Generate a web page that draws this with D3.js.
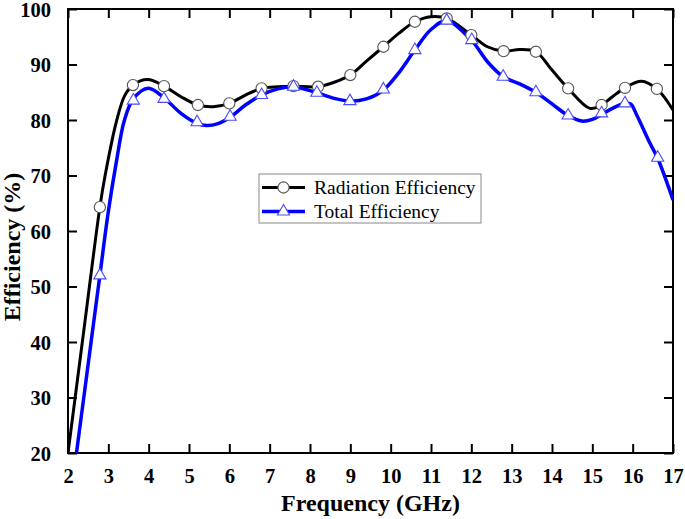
<!DOCTYPE html>
<html>
<head>
<meta charset="utf-8">
<script src="https://cdn.jsdelivr.net/npm/d3@7"></script>
<style>
  html, body { margin: 0; padding: 0; background: #fff; }
  svg { display: block; }
</style>
</head>
<body>
<svg id="chart" width="685" height="519"></svg>
<script>
// ---- Data ----
const xTicks = [2,3,4,5,6,7,8,9,10,11,12,13,14,15,16,17];
const yTicks = [20,30,40,50,60,70,80,90,100];

// Radiation efficiency curve (GHz, %)
const radFreq = [2.0,2.4,2.79,2.92,3.21,3.4,3.61,3.98,4.38,4.8,5.22,5.6,6.0,6.4,6.8,7.2,7.59,8.2,8.6,9.0,9.4,9.82,10.2,10.6,11.0,11.39,12.0,12.4,12.8,13.2,13.6,14.0,14.4,14.94,15.23,15.5,15.81,16.22,16.6,17.0];
const radVals = [20,42.5,64.3,70,80,84.3,86.3,87.3,86.1,84.2,82.7,82.4,83.0,84.5,85.7,86.0,86.1,86.0,86.8,88.1,90.6,93.2,95.6,97.7,98.6,98.3,95.3,93.2,92.4,92.7,92.3,89.0,85.7,82.1,82.7,84.2,85.8,87.0,85.6,81.8];
const radMarkFreq = [2.79,3.61,4.38,5.22,6.0,6.8,7.59,8.2,9.0,9.82,10.6,11.39,12.0,12.8,13.6,14.4,15.23,15.81,16.6];
const radMarkVals = [64.3,86.3,86.1,82.7,83.0,85.7,86.1,86.0,88.1,93.2,97.7,98.3,95.3,92.4,92.3,85.7,82.7,85.8,85.6];

// Total efficiency curve (GHz, %)
const totFreq = [2.21,2.5,2.79,3.0,3.2,3.4,3.62,3.99,4.38,4.8,5.2,5.44,5.7,6.02,6.4,6.8,7.2,7.59,8.17,8.6,8.99,9.4,9.82,10.2,10.6,11.0,11.39,12.01,12.4,12.79,13.2,13.6,14.0,14.4,14.74,15.0,15.23,15.5,15.81,15.95,16.1,16.43,16.62,17.0];
const totVals = [20,36,52,63.5,72.5,80,83.8,85.7,84.0,81.2,79.4,79.0,79.3,80.5,82.7,84.5,85.6,86.0,84.9,83.9,83.4,83.8,85.4,88.5,92.6,96.3,97.9,94.3,90.5,87.8,86.5,85.0,82.9,80.8,79.8,80.1,81.0,82.1,83.0,82.9,80.9,75.8,73.1,65.6];
const totMarkFreq = [2.79,3.62,4.38,5.2,6.02,6.8,7.59,8.17,8.99,9.82,10.6,11.39,12.01,12.79,13.6,14.4,15.23,15.81,16.62];
const totMarkVals = [52,83.5,83.8,79.6,80.6,84.5,86.0,84.9,83.4,85.5,92.6,97.9,94.4,87.8,85.0,80.8,81.2,83.0,73.2];

const seriesNames = ["Radiation Efficiency", "Total Efficiency"];
const xTitle = "Frequency (GHz)";
const yTitle = "Efficiency (%)";

// ---- Layout ----
const L = 68, R = 673, T = 9, B = 453;
const svg = d3.select("#chart");
const x = d3.scaleLinear().domain([2,17]).range([L,R]);
const y = d3.scaleLinear().domain([20,100]).range([B,T]);
const font = "'Liberation Serif','Times New Roman',serif";

svg.append("defs").append("clipPath").attr("id","clip")
  .append("rect").attr("x",L).attr("y",T).attr("width",R-L).attr("height",B-T);

// Axes with inward ticks
const tickLen = 9;
const gx = svg.append("g").attr("transform",`translate(0,${B})`)
  .call(d3.axisBottom(x).tickValues(xTicks).tickSize(-tickLen).tickPadding(tickLen+6).tickFormat(d3.format("d")));
const gxt = svg.append("g").attr("transform",`translate(0,${T})`)
  .call(d3.axisTop(x).tickValues(xTicks).tickSize(-tickLen).tickFormat(""));
const gy = svg.append("g").attr("transform",`translate(${L},0)`)
  .call(d3.axisLeft(y).tickValues(yTicks).tickSize(-tickLen).tickPadding(tickLen+8).tickFormat(d3.format("d")));
const gyr = svg.append("g").attr("transform",`translate(${R},0)`)
  .call(d3.axisRight(y).tickValues(yTicks).tickSize(-tickLen).tickFormat(""));

[gx,gxt,gy,gyr].forEach(g => {
  g.select(".domain").remove();
  g.selectAll(".tick line").attr("stroke","#000").attr("stroke-width",2);
  g.selectAll("text").attr("font-family",font).attr("font-weight","bold")
    .attr("font-size",20.5).attr("fill","#000");
});
gy.selectAll("text").attr("dy","0.36em");

// frame
svg.append("rect").attr("x",L).attr("y",T).attr("width",R-L).attr("height",B-T)
  .attr("fill","none").attr("stroke","#000").attr("stroke-width",2);

// Lines
const line = d3.line().x(d => x(d[0])).y(d => y(d[1])).curve(d3.curveCatmullRom.alpha(0.5));
const radData = radFreq.map((f,i) => [f, radVals[i]]);
const totData = totFreq.map((f,i) => [f, totVals[i]]);
const plot = svg.append("g").attr("clip-path","url(#clip)");
plot.append("path").datum(radData).attr("d",line).attr("fill","none")
  .attr("stroke","#000").attr("stroke-width",3).attr("stroke-linejoin","round");
plot.append("path").datum(totData).attr("d",line).attr("fill","none")
  .attr("stroke","#0000ff").attr("stroke-width",3.5).attr("stroke-linejoin","round");

// Markers
const circ = d3.symbol().type(d3.symbolCircle).size(Math.PI*5.6*5.6);
const tri = d3.symbol().type(d3.symbolTriangle).size(64);
svg.append("g").selectAll("path").data(radMarkFreq.map((f,i)=>[f,radMarkVals[i]])).join("path")
  .attr("d",circ).attr("transform",d=>`translate(${x(d[0])},${y(d[1])})`)
  .attr("fill","#fff").attr("stroke","#555").attr("stroke-width",1.1);
svg.append("g").selectAll("path").data(totMarkFreq.map((f,i)=>[f,totMarkVals[i]])).join("path")
  .attr("d",tri).attr("transform",d=>`translate(${x(d[0])},${y(d[1])})`)
  .attr("fill","#fff").attr("stroke","#4a4aff").attr("stroke-width",1.1);

// Legend
const lg = svg.append("g");
lg.append("rect").attr("x",259).attr("y",174).attr("width",222).attr("height",49)
  .attr("fill","#fff").attr("stroke","#888").attr("stroke-width",1);
const rows = [
  {name: seriesNames[0], color:"#000", sym:circ, mstroke:"#555", yy:187.5, w:3},
  {name: seriesNames[1], color:"#0000ff", sym:tri, mstroke:"#4a4aff", yy:211.5, w:3.5}
];
rows.forEach(r => {
  lg.append("line").attr("x1",262).attr("x2",305).attr("y1",r.yy).attr("y2",r.yy)
    .attr("stroke",r.color).attr("stroke-width",r.w);
  lg.append("path").attr("d",r.sym).attr("transform",`translate(283.5,${r.yy})`)
    .attr("fill","#fff").attr("stroke",r.mstroke).attr("stroke-width",1.1);
  lg.append("text").attr("x",314).attr("y",r.yy).attr("dy","0.35em")
    .attr("font-family",font).attr("font-size",19.5).attr("fill","#000").text(r.name);
});

// Axis titles
svg.append("text").attr("x",(L+R)/2).attr("y",511).attr("text-anchor","middle")
  .attr("font-family",font).attr("font-weight","bold").attr("font-size",24).text(xTitle);
svg.append("text").attr("transform",`translate(20,247) rotate(-90)`).attr("text-anchor","middle")
  .attr("font-family",font).attr("font-weight","bold").attr("font-size",24).text(yTitle);
</script>
</body>
</html>
